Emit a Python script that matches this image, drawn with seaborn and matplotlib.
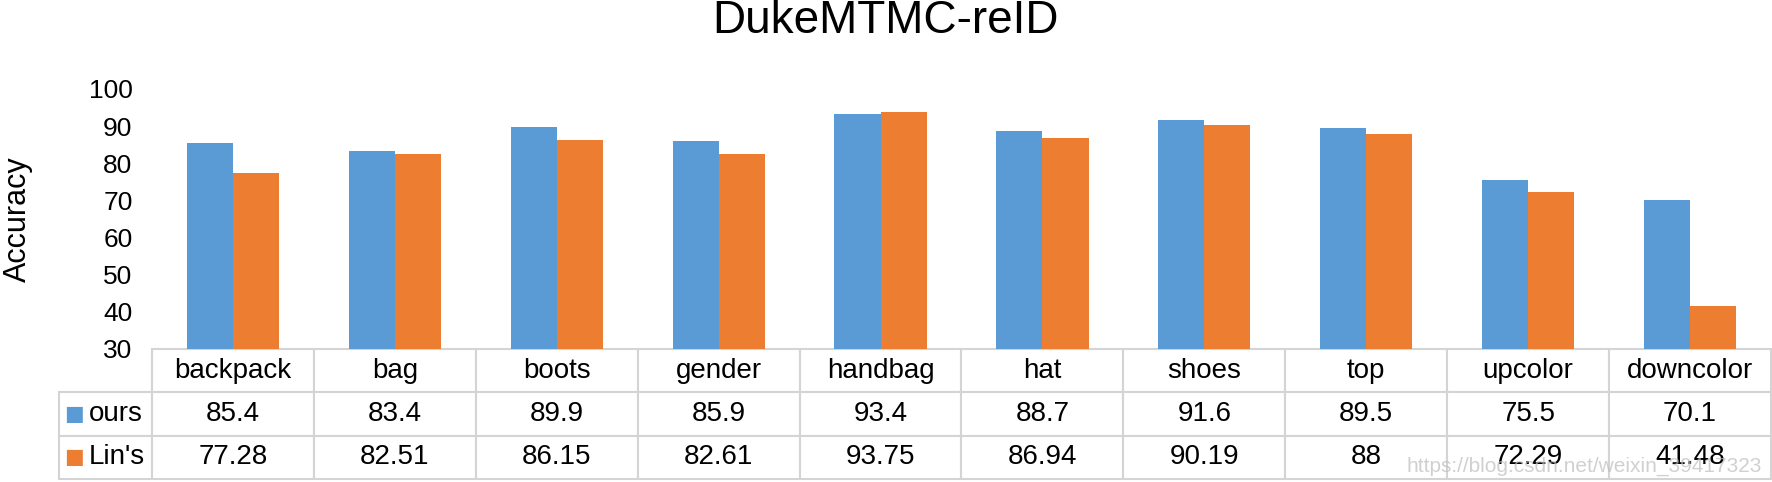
import pandas as pd
import seaborn as sns
import matplotlib.pyplot as plt

# attribute accuracies
categories = ['backpack', 'bag', 'boots', 'gender', 'handbag', 'hat', 'shoes', 'top', 'upcolor', 'downcolor']
ours = [85.4, 83.4, 89.9, 85.9, 93.4, 88.7, 91.6, 89.5, 75.5, 70.1]
lins = [77.28, 82.51, 86.15, 82.61, 93.75, 86.94, 90.19, 88, 72.29, 41.48]
methods = ['ours', "Lin's"]
colors = ['#5B9BD5', '#ED7D31']
yticks = [30, 40, 50, 60, 70, 80, 90, 100]

df = pd.DataFrame({'attr': categories * 2,
                   'acc': ours + lins,
                   'method': [methods[0]] * len(ours) + [methods[1]] * len(lins)})

sns.set_theme(style='white')
plt.rcParams['font.family'] = ['Liberation Sans', 'DejaVu Sans']
plt.rcParams['text.color'] = 'black'

fig = plt.figure(figsize=(17.72, 4.82), dpi=100)
ax = fig.add_axes([152 / 1772, 133 / 482, 1619 / 1772, 260 / 482])

sns.barplot(data=df, x='attr', y='acc', hue='method', order=categories, hue_order=methods,
            palette=colors, width=0.57, saturation=1, linewidth=0, legend=False, ax=ax)

ax.set_ylim(30, 100)
ax.set_xlim(-0.5, len(categories) - 0.5)
ax.set_yticks(yticks)
ax.set_yticklabels([str(t) for t in yticks])
ax.tick_params(axis='y', length=0, pad=14, labelsize=19, labelcolor='black')
ax.set_xticks([])
ax.set_xlabel('')
ax.set_ylabel('Accuracy', fontsize=22, color='black')
ax.yaxis.set_label_coords(-0.0735, 0.5)
for s in ax.spines.values():
    s.set_visible(False)

# data table under the bars (first column holds the series names)
def fmt(v):
    return f'{v:g}'

rows = [[m] + [fmt(v) for v in vals] for m, vals in zip(methods, [ours, lins])]
tab = ax.table(cellText=rows, colLabels=[''] + categories, cellLoc='center',
               colWidths=[93] + [162] * len(categories),
               bbox=[-93 / 1619, -0.5, 1 + 93 / 1619, 0.5])
tab.auto_set_font_size(False)
tab.set_fontsize(20)
for (r, c), cell in tab.get_celld().items():
    cell.set_edgecolor('#D4D4D4')
    cell.set_linewidth(1.5)
    cell.get_text().set_color('black')
    if c == 0:
        if r == 0:
            cell.visible_edges = ''
        else:
            cell.get_text().set_ha('left')
            cell.PAD = 0.32

# colour keys in front of the series names
for i, (m, col) in enumerate(zip(methods, colors)):
    yc = -0.5 + (1.5 - i) * (0.5 / 3)
    ax.text(-88 / 1619, yc, '\u25A0', color=col, fontsize=15, ha='left', va='center',
            transform=ax.transAxes, family='DejaVu Sans')

fig.text(0.5, 1 - 33 / 482, 'DukeMTMC-reID', ha='center', va='baseline', fontsize=33, color='black')
fig.text(1762 / 1772, 1 - 472 / 482, 'https://blog.csdn.net/weixin_39417323', ha='right',
         va='baseline', fontsize=15, color='#bdbdbd', alpha=0.7)

fig.savefig('out.png', dpi=100)
